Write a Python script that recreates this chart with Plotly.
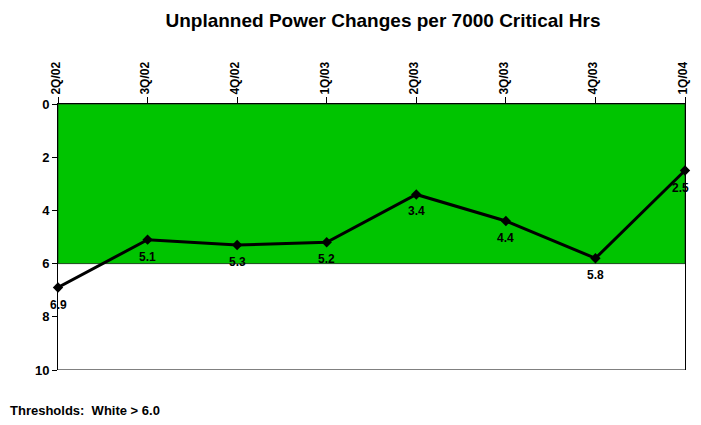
import plotly.graph_objects as go

quarters = ["2Q/02", "3Q/02", "4Q/02", "1Q/03", "2Q/03", "3Q/03", "4Q/03", "1Q/04"]
values = [6.9, 5.1, 5.3, 5.2, 3.4, 4.4, 5.8, 2.5]
labels = ["6.9", "5.1", "5.3", "5.2", "3.4", "4.4", "5.8", "2.5"]
green_threshold = 6.0
y_ticks = [0, 2, 4, 6, 8, 10]

FONT = "Liberation Sans, Arial, sans-serif"
W, H = 686, 409
ML, MR, MT, MB = 50, 4, 96, 47
PW = W - ML - MR
PH = H - MT - MB

fig = go.Figure()
fig.add_trace(go.Scatter(
    x=quarters, y=values, mode="lines+markers",
    line=dict(color="black", width=3),
    marker=dict(symbol="diamond", size=8, color="black"),
    cliponaxis=False, showlegend=False,
))

n = len(quarters)
for i, (q, v, t) in enumerate(zip(quarters, values, labels)):
    fig.add_annotation(x=q, y=v, text=f"<b>{t}</b>", showarrow=False,
                       yshift=-17, xshift=(-5 if i == n - 1 else 0),
                       xanchor="center", yanchor="middle",
                       font=dict(family=FONT, size=12, color="black"))

fig.add_shape(type="rect", xref="paper", yref="y", x0=0, x1=1, y0=0, y1=green_threshold,
              fillcolor="#00C400", line=dict(color="#1a4a1a", width=1), layer="below")
fig.add_shape(type="line", xref="paper", yref="y", x0=0, x1=1, y0=10, y1=10,
              line=dict(color="#808080", width=2))

fig.update_layout(
    width=W, height=H,
    margin=dict(l=ML, r=MR, t=MT, b=MB),
    paper_bgcolor="white", plot_bgcolor="white",
    title=dict(text="<b>Unplanned Power Changes per 7000 Critical Hrs</b>",
               x=375 / W, xanchor="center", y=1 - 12 / H, yanchor="middle",
               font=dict(family=FONT, size=19, color="black")),
    font=dict(family=FONT, color="black"),
)
fig.update_xaxes(
    type="category", side="top", range=[0, 7],
    tickmode="array", tickvals=quarters, ticktext=[f"<b>{q}</b>" for q in quarters],
    tickangle=-90, ticks="outside", ticklen=6, tickcolor="black",
    ticklabelshift=-2,
    tickfont=dict(family=FONT, size=12, color="black"),
    showline=True, linecolor="black", linewidth=1,
    showgrid=False, zeroline=False,
)
fig.update_yaxes(
    range=[10, 0], tickmode="array", tickvals=y_ticks,
    ticktext=[f"<b>{v}</b>" for v in y_ticks],
    ticks="outside", ticklen=5, tickcolor="black",
    tickfont=dict(family=FONT, size=13, color="black"),
    showline=True, linecolor="black", linewidth=1, mirror=True,
    showgrid=False, zeroline=False,
)

fig.add_annotation(text="<b>Thresholds:  White > 6.0</b>", xref="paper", yref="paper",
                   x=-ML / PW, xanchor="left", y=-40 / PH, yanchor="middle",
                   showarrow=False, font=dict(family=FONT, size=13, color="black"))

fig.write_html("out.html")
